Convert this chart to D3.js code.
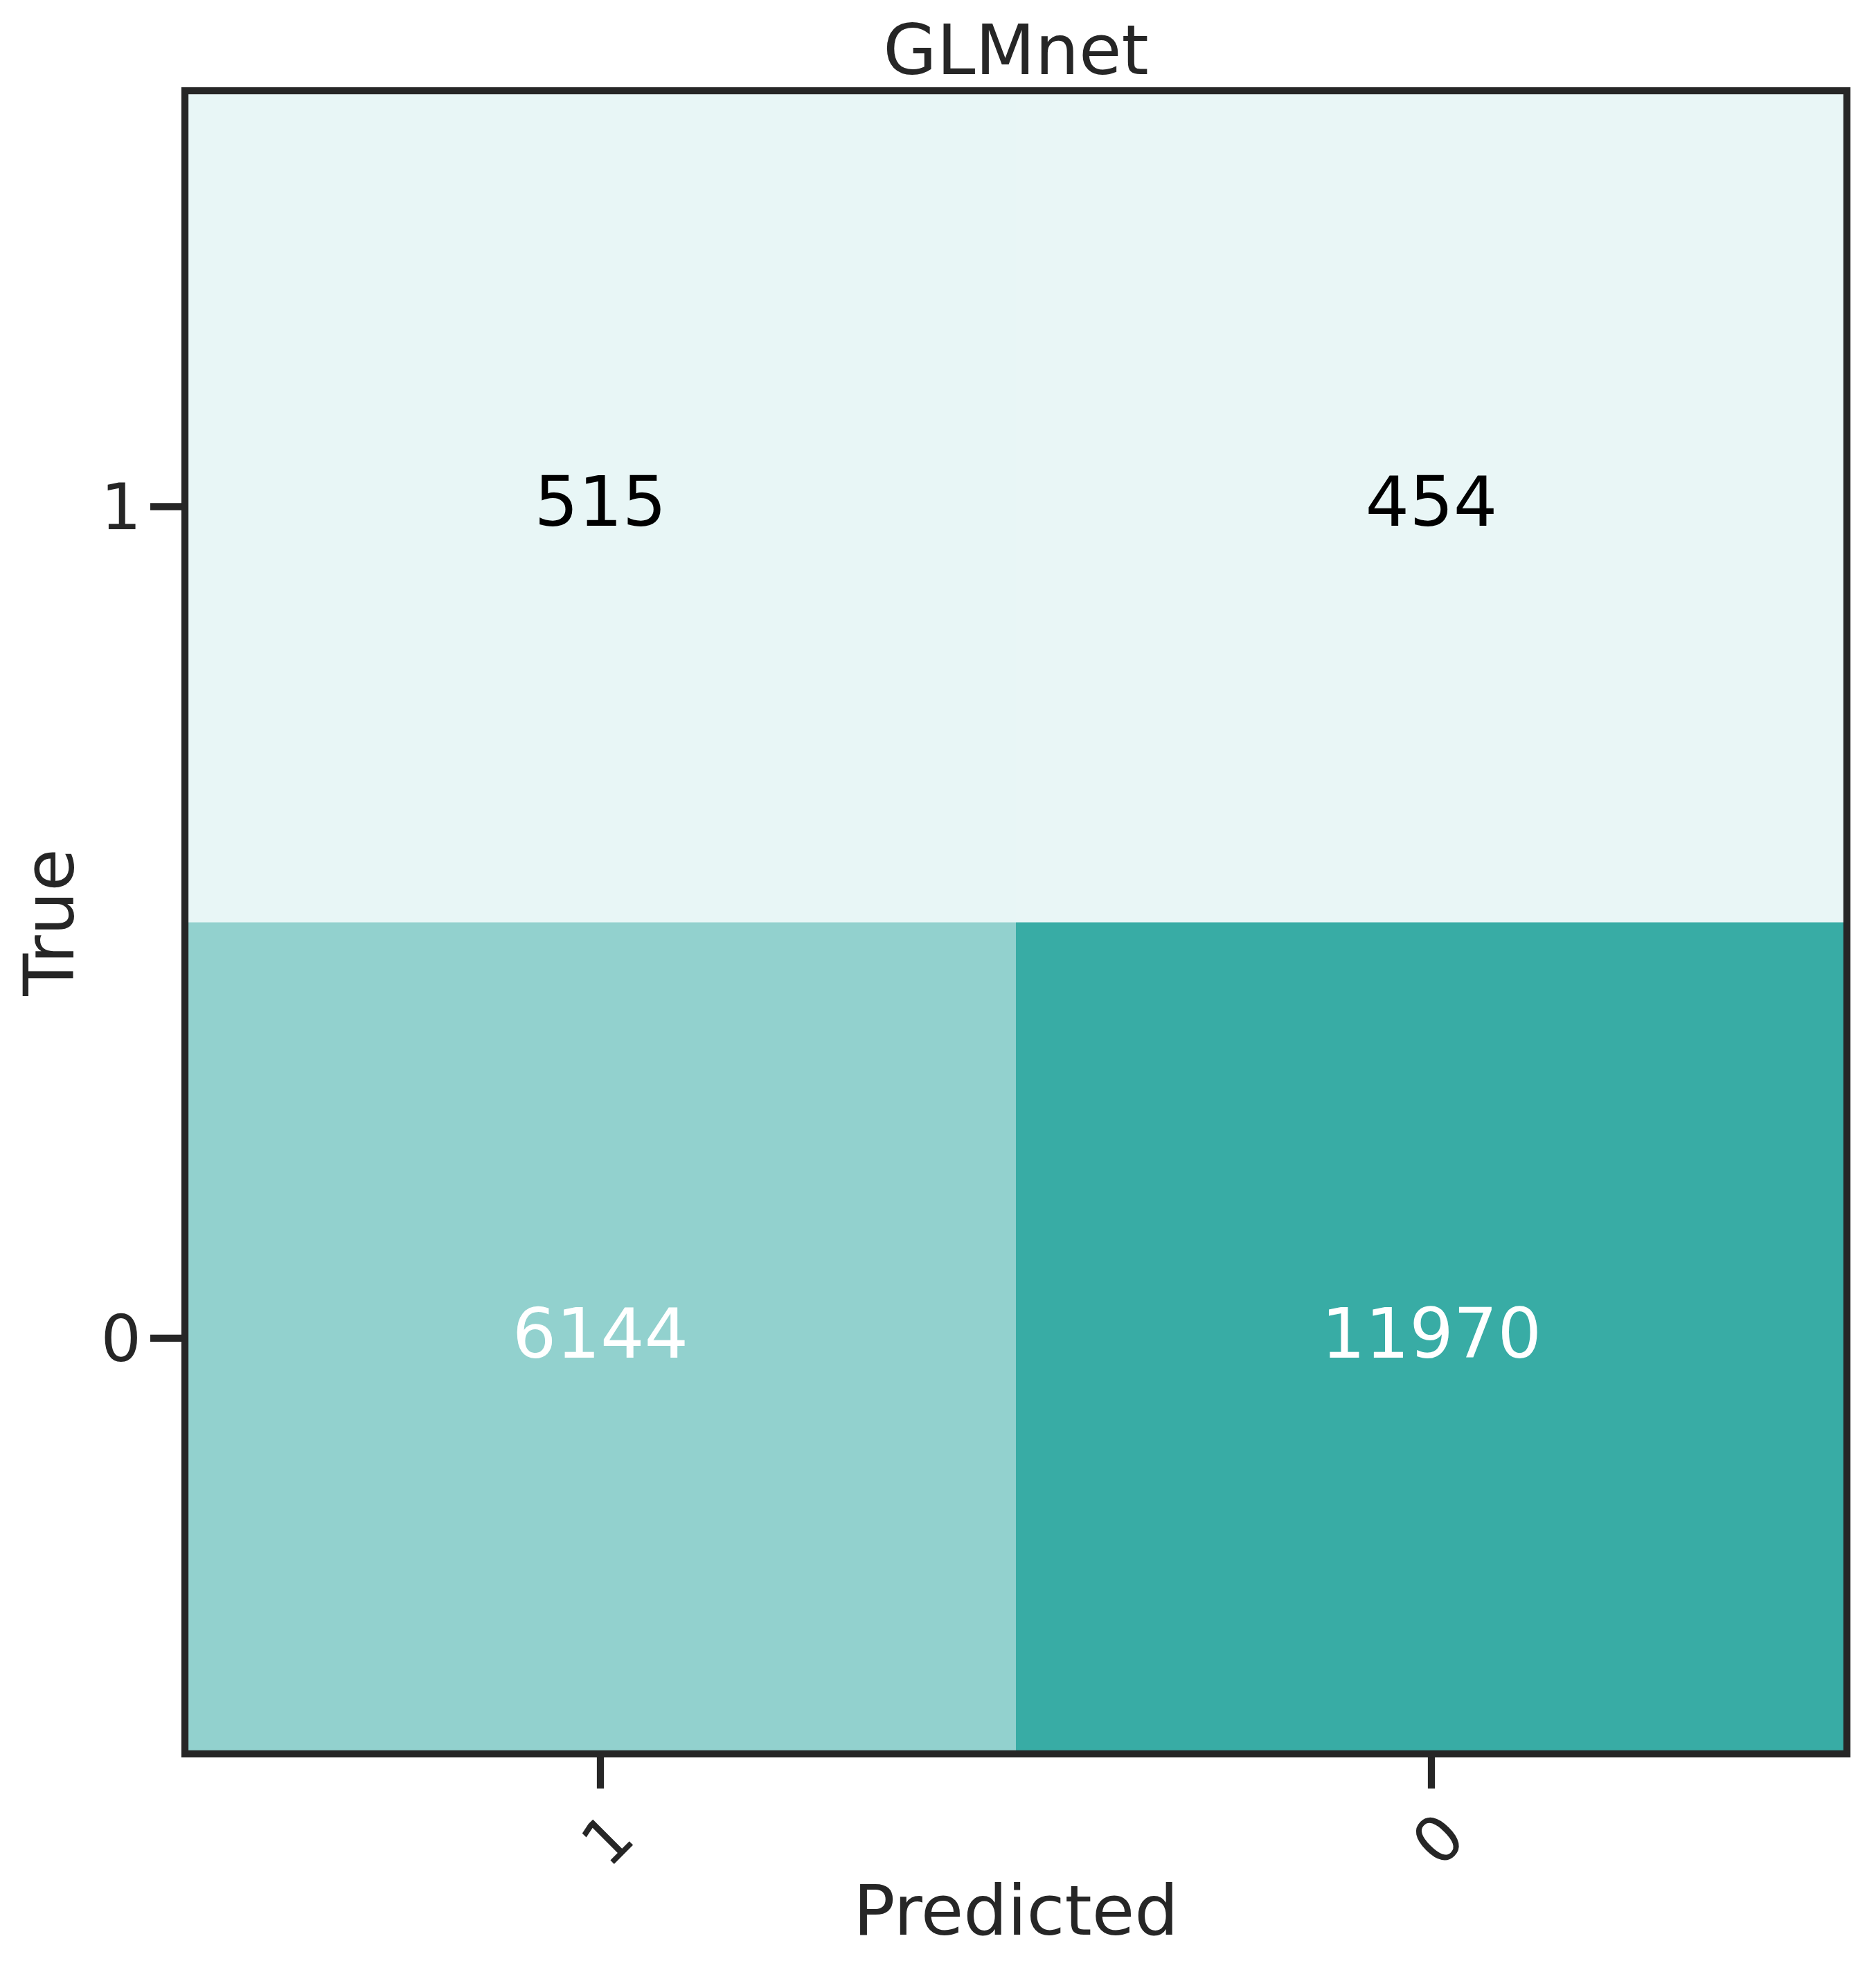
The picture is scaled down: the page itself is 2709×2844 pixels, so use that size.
<!DOCTYPE html>
<html>
<head>
<meta charset="utf-8">
<script src="https://cdn.jsdelivr.net/npm/d3@7"></script>
<style>
  body { margin: 0; background: #ffffff; }
  text { font-family: "DejaVu Sans", sans-serif; }
</style>
</head>
<body>
<div id="chart"></div>
<script>
// confusion matrix values, rows = true class, columns = predicted class
const predictedLabels = ["1", "0"];
const trueLabels = ["1", "0"];
const row1 = [515, 454];
const row0 = [6144, 11970];
const counts = [row1, row0];
const titleText = "GLMnet";

const width = 2709;
const height = 2844;
const margin = { left: 267, top: 131, right: 42, bottom: 312 };
const ink = "#262626";
const lineW = 10.25;

const svg = d3.select("#chart").append("svg")
    .attr("width", width)
    .attr("height", height);

const x = d3.scaleBand().domain(predictedLabels).range([margin.left, width - margin.right]);
const y = d3.scaleBand().domain(trueLabels).range([margin.top, height - margin.bottom]);

const cells = [];
trueLabels.forEach((t, i) => {
    predictedLabels.forEach((p, j) => {
        cells.push({ t: t, p: p, v: counts[i][j] });
    });
});

const allValues = cells.map(d => d.v);
const color = d3.scaleLinear()
    .domain([d3.min(allValues), d3.max(allValues)])
    .range(["#e9f6f6", "#38aca5"]);
const thresh = d3.max(allValues) / 2;

// cells
svg.append("g").selectAll("rect").data(cells).enter().append("rect")
    .attr("x", d => x(d.p))
    .attr("y", d => y(d.t))
    .attr("width", x.bandwidth())
    .attr("height", y.bandwidth())
    .attr("fill", d => color(d.v));

// cell annotations
svg.append("g").selectAll("text").data(cells).enter().append("text")
    .attr("x", d => x(d.p) + x.bandwidth() / 2)
    .attr("y", d => y(d.t) + y.bandwidth() / 2)
    .attr("dy", "0.28em")
    .attr("text-anchor", "middle")
    .style("font-size", "100px")
    .attr("fill", d => d.v > thresh ? "#ffffff" : "#000000")
    .text(d => d.v);

// axes
const yAxis = svg.append("g")
    .attr("transform", `translate(${margin.left},0)`)
    .call(d3.axisLeft(y).tickSize(50).tickSizeOuter(0).tickPadding(13));
yAxis.select(".domain").remove();
yAxis.selectAll(".tick line").attr("stroke", ink).attr("stroke-width", lineW);
yAxis.selectAll(".tick text")
    .attr("fill", ink)
    .attr("dy", "0.36em")
    .style("font-size", "92px")
    .style("font-family", "DejaVu Sans");

const xAxis = svg.append("g")
    .attr("transform", `translate(0,${height - margin.bottom})`)
    .call(d3.axisBottom(x).tickSize(50).tickSizeOuter(0));
xAxis.select(".domain").remove();
xAxis.selectAll(".tick line").attr("stroke", ink).attr("stroke-width", lineW);
xAxis.selectAll(".tick text")
    .attr("fill", ink)
    .attr("x", 0)
    .attr("y", 0)
    .attr("dy", "0.36em")
    .attr("text-anchor", "middle")
    .attr("transform", "translate(9,123) rotate(-45)")
    .style("font-size", "92px")
    .style("font-family", "DejaVu Sans");

// frame around the heatmap
svg.append("rect")
    .attr("x", margin.left)
    .attr("y", margin.top)
    .attr("width", width - margin.left - margin.right)
    .attr("height", height - margin.top - margin.bottom)
    .attr("fill", "none")
    .attr("stroke", ink)
    .attr("stroke-width", lineW);

// title and labels
const cx = margin.left + (width - margin.left - margin.right) / 2;
const cy = margin.top + (height - margin.top - margin.bottom) / 2;

svg.append("text")
    .attr("x", cx)
    .attr("y", margin.top - 24)
    .attr("text-anchor", "middle")
    .attr("fill", ink)
    .style("font-size", "100px")
    .text(titleText);

svg.append("text")
    .attr("x", cx)
    .attr("y", 2793)
    .attr("text-anchor", "middle")
    .attr("fill", ink)
    .style("font-size", "100px")
    .text("Predicted");

svg.append("text")
    .attr("transform", `translate(106,${cy}) rotate(-90)`)
    .attr("text-anchor", "middle")
    .attr("fill", ink)
    .style("font-size", "100px")
    .text("True");
</script>
</body>
</html>
